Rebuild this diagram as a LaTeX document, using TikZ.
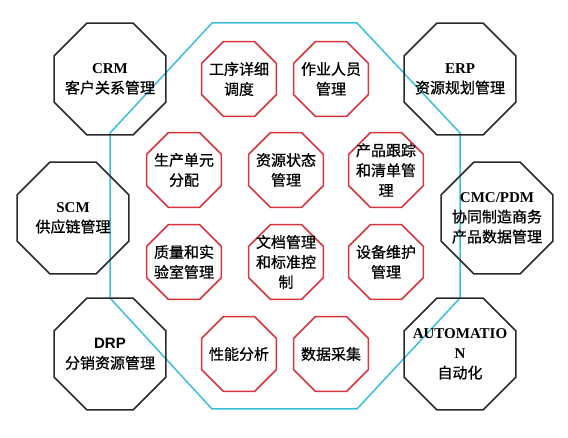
\documentclass[tikz,border=0pt]{standalone}
\usepackage{fontspec}
\setmainfont{Liberation Serif}
\newfontfamily\cjk[FakeBold=0.8]{Noto Sans CJK SC}
\newfontfamily\arialfont{Liberation Sans}
\usetikzlibrary{shapes.geometric}
\definecolor{octred}{HTML}{D7343C}
\definecolor{octcyan}{HTML}{3CC0D8}
\definecolor{octblack}{HTML}{2A2A2A}
\newcommand{\en}[1]{{\rmfamily\bfseries #1}}

\begin{document}
\begin{tikzpicture}[x=1pt, y=-1pt,
       oct/.style = {regular polygon, regular polygon sides=8,
                     inner sep=0pt, line width=1.6pt},
  outeroct/.style = {oct, draw=octblack, minimum size=121pt},
  inneroct/.style = {oct, draw=octred, minimum size=81pt},
       txt/.style = {align=center, inner sep=0pt,
                     font=\fontsize{15}{20}\selectfont\cjk}
                        ]
\useasboundingbox (0,0) rectangle (568,438);
% the plant floor
\draw[octcyan, line width=1.5pt] (212,23) -- (357,23) -- (460,133) -- (460,298)
   -- (357,409) -- (212,409) -- (110,298) -- (110,133) -- cycle;
% outer systems
\node (crm)  [outeroct] at (110,79)  {};
\node (scm)  [outeroct] at (73,218)  {};
\node (drp)  [outeroct] at (110,354) {};
\node (erp)  [outeroct] at (460,79)  {};
\node (cmc)  [outeroct] at (497,218) {};
\node (auto) [outeroct] at (460,354) {};
\node [txt] at (crm)  {\en{CRM}\\客户关系管理};
\node [txt] at (scm)  {\en{SCM}\\供应链管理};
\node [txt] at (drp)  {{\arialfont\bfseries DRP}\\分销资源管理};
\node [txt] at (erp)  {\en{ERP}\\资源规划管理};
\node [txt] at (cmc)  {\en{CMC/PDM}\\协同制造商务\\产品数据管理};
\node [txt] at (auto) {\en{AUTOMATIO}\\\en{N}\\自动化};
% MES functions
\node (sched)    [inneroct] at (239,79)  {};
\node (staff)    [inneroct] at (331,79)  {};
\node (alloc)    [inneroct] at (184,170) {};
\node (resstate) [inneroct] at (286,170) {};
\node (track)    [inneroct] at (386,170) {};
\node (quality)  [inneroct] at (184,262) {};
\node (docs)     [inneroct] at (286,262) {};
\node (equip)    [inneroct] at (386,262) {};
\node (perf)     [inneroct] at (239,354) {};
\node (collect)  [inneroct] at (331,354) {};
\node [txt] at (sched)    {工序详细\\调度};
\node [txt] at (staff)    {作业人员\\管理};
\node [txt] at (alloc)    {生产单元\\分配};
\node [txt] at (resstate) {资源状态\\管理};
\node [txt] at (track)    {产品跟踪\\和清单管\\理};
\node [txt] at (quality)  {质量和实\\验室管理};
\node [txt] at (docs)     {文档管理\\和标准控\\制};
\node [txt] at (equip)    {设备维护\\管理};
\node [txt] at (perf)     {性能分析};
\node [txt] at (collect)  {数据采集};
\end{tikzpicture}
\end{document}
